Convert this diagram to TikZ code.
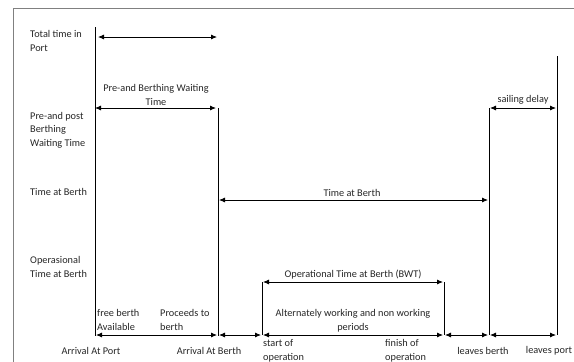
\documentclass[tikz,border=0pt]{standalone}
\usepackage{fontspec}
\setmainfont{Carlito}
\usetikzlibrary{arrows.meta}
\tikzset{
	dim/.style={{Latex[length=6pt,width=5pt]}-{Latex[length=6pt,width=5pt]}, line width=0.8pt},
	mark line/.style={line width=1pt},
	lab/.style={inner sep=0pt, align=left, font=\fontsize{10.3}{13.5}\selectfont, text=black!85},
	labc/.style={lab, align=center},
}
\begin{document}
\begin{tikzpicture}[x=1pt,y=-1pt]
				\useasboundingbox (0,0) rectangle (574,362);
				\draw [gray, line width=1pt] (13,362) -- (13,8) -- (574,8);
				% time marks
				\draw [mark line] (95,27) coordinate (atop) -- (95,336) coordinate (abot);
				\draw [mark line] (218,108) coordinate (btop) -- (218,336) coordinate (bbot);
				\draw [mark line] (262,282) coordinate (stop) -- (262,335) coordinate (sbot);
				\draw [mark line] (444,282) coordinate (ftop) -- (444,335) coordinate (fbot);
				\draw [mark line] (489,108) coordinate (ltop) -- (489,335) coordinate (lbot);
				\draw [mark line] (557,56) coordinate (ptop) -- (557,335) coordinate (pbot);
				% row labels
				\node (total) [lab, anchor=west] at (30,41) {Total time in\\Port};
				\node (prepost) [lab, anchor=west] at (30,130) {Pre-and post\\Berthing\\Waiting Time};
				\node (atberth) [lab, anchor=west] at (30,192) {Time at Berth};
				\node (operas) [lab, anchor=west] at (30,267) {Operasional\\Time at Berth};
				% spans
				\coordinate (t1) at (98,37);
				\coordinate (t2) at (217,37);
				\draw [dim] (t1) -- (t2);
				\draw [dim] (atop |- btop) -- ([xshift=-2pt]btop);
				\node (prewait) [labc] at (156,95) {Pre-and Berthing Waiting\\Time};
				\draw [dim] ([xshift=1pt]ltop) -- ([xshift=-1pt]ltop -| ptop);
				\node (sailing) [labc] at (523,100) {sailing delay};
				\coordinate (b1) at (219,200);
				\coordinate (b2) at (488,200);
				\draw [dim] (b1) -- (b2);
				\node (tberth) [labc] at (352,193) {Time at Berth};
				\draw [dim] ([xshift=1pt]stop) -- ([xshift=-1pt]ftop);
				\node (opberth) [labc] at (353,275) {Operational Time at Berth (BWT)};
				\node (altern) [labc] at (353,321) {Alternately working and non working\\periods};
				% bottom spans
				\draw [dim] ([xshift=1pt]abot |- sbot) -- ([xshift=-1pt]bbot |- sbot);
				\draw [dim] ([xshift=1pt]bbot |- sbot) -- ([xshift=-1pt]sbot);
				\draw [dim] ([xshift=1pt]sbot) -- ([xshift=-1pt]fbot);
				\draw [dim] ([xshift=1pt]fbot) -- ([xshift=-1pt]lbot);
				\draw [dim] ([xshift=1pt]lbot) -- ([xshift=-1pt]pbot);
				\node (free) [lab, anchor=west] at (97,320) {free berth\\Available};
				\node (proceeds) [lab, anchor=west] at (160,320) {Proceeds to\\berth};
				% events
				\node (arrport) [labc] at (91,351) {Arrival At Port};
				\node (arrberth) [labc] at (209,351) {Arrival At Berth};
				\node (startop) [lab, anchor=west] at (263,351) {start of\\operation};
				\node (finishop) [lab, anchor=west] at (385,351) {finish of\\operation};
				\node (leaveb) [labc] at (483,351) {leaves berth};
				\node (leavep) [labc] at (549,351) {leaves port};
\end{tikzpicture}
\end{document}
